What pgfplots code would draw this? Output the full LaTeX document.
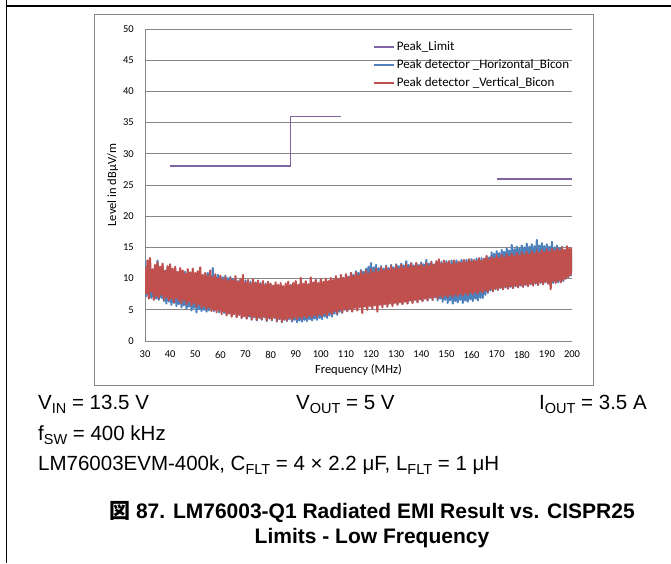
\documentclass[border=0pt]{standalone}
\usepackage{pgfplots}
\pgfplotsset{compat=1.18}
\usepackage{fontspec}
\setmainfont{Carlito}
\newfontfamily\arial{Liberation Sans}
\newfontfamily\cjk{Noto Sans CJK JP}
\definecolor{limitc}{RGB}{128,100,162}
\definecolor{horc}{RGB}{79,129,189}
\definecolor{verc}{RGB}{192,80,77}
\definecolor{gridc}{RGB}{134,134,134}
\newcommand\sub[1]{\raisebox{-4.3pt}{\fontsize{14.5}{14.5}\selectfont #1}}
\begin{document}
\begin{tikzpicture}
\useasboundingbox (0pt,0pt) rectangle (671pt,-563pt);
\draw[line width=1.1pt] (6.5pt,0pt) -- (6.5pt,-563pt);
\draw[line width=1.1pt] (6.5pt,-6pt) -- (671pt,-6pt);
\draw[gridc, line width=0.8pt] (94pt,-14pt) rectangle (593pt,-385pt);
\begin{axis}[
  at={(145pt,-341pt)}, anchor=south west,
  scale only axis, width=427pt, height=312pt,
  xmin=30, xmax=200, ymin=0, ymax=50,
  xtick={30,40,...,200}, ytick={0,5,...,50},
  axis x line*=bottom, axis y line*=left,
  axis line style={draw=gridc, line width=0.75pt, -},
  major tick length=0pt,
  ymajorgrids, grid style={gridc, line width=0.75pt},
  /pgf/number format/assume math mode=true,
  tick label style={font=\fontsize{10.5}{12}\selectfont},
  yticklabel style={anchor=east, inner sep=0pt, xshift=-11pt},
  xticklabel style={anchor=north, inner sep=0pt, yshift=-9.7pt},
  xlabel={Frequency (MHz)},
  ylabel={Level in dBμV/m},
  label style={font=\fontsize{12.5}{14}\selectfont, inner sep=0pt},
  xlabel style={at={(axis description cs:0.5,0)}, anchor=base, yshift=-32.5pt},
  ylabel style={at={(axis description cs:0,0.5)}, anchor=base, yshift=29pt},
  legend style={at={(0.5351,0.9712)}, anchor=north west, draw=none, fill=none,
    inner sep=0pt, row sep=0pt, font=\fontsize{13}{15}\selectfont,
    cells={anchor=west},
    nodes={inner xsep=1.5pt, inner ysep=2.5pt, text height=9.5pt, text depth=3.5pt}},
  legend image code/.code={\draw[#1, line width=1.6pt] (0pt,0pt) -- (20pt,0pt);},
]
\addplot[limitc, line width=1.6pt] coordinates {(40,28)(88,28)(88,36)(108,36)};
\addlegendentry{Peak\_Limit}
\addplot[horc, line width=2.1pt, line join=round] coordinates {
(30,12.9)(30.5,7.2)(31,11.8)(31.5,7.4)(32,12.2)(32.5,6.9)(33,11.4)(33.5,7.1)(34,12.0)(34.5,6.8)(35,12.9)(35.5,6.6)(36,11.6)(36.5,6.9)(37,12.1)(37.5,6.4)(38,11.3)(38.5,6.0)(39,11.8)(39.5,6.3)
(40,11.5)(40.5,5.8)(41,11.2)(41.5,6.1)(42,11.6)(42.5,5.6)(43,10.9)(43.5,5.9)(44,11.3)(44.5,5.4)(45,10.8)(45.5,5.7)(46,11.1)(46.5,5.2)(47,10.6)(47.5,5.5)(48,11.0)(48.5,4.9)(49,10.5)(49.5,5.3)
(50,10.8)(50.5,4.6)(51,10.4)(51.5,5.1)(52,10.7)(52.5,4.8)(53,10.2)(53.5,5.0)(54,10.6)(54.5,4.7)(55,10.9)(55.5,4.9)(56,10.5)(56.5,5.2)(57,11.7)(57.5,4.8)(58,10.3)(58.5,5.1)(59,10.6)(59.5,4.6)
(60,10.4)(60.5,4.9)(61,10.2)(61.5,4.5)(62,10.5)(62.5,4.2)(63,10.1)(63.5,4.6)(64,10.3)(64.5,4.0)(65,9.9)(65.5,4.4)(66,10.0)(66.5,3.9)(67,9.6)(67.5,4.2)(68,9.8)(68.5,3.7)(69,9.4)(69.5,4.0)
(70,9.7)(70.5,3.6)(71,9.2)(71.5,3.9)(72,9.5)(72.5,3.4)(73,9.1)(73.5,3.8)(74,9.4)(74.5,3.3)(75,9.0)(75.5,3.7)(76,9.3)(76.5,3.4)(77,8.9)(77.5,3.8)(78,9.2)(78.5,3.2)(79,8.8)(79.5,3.6)
(80,9.1)(80.5,3.3)(81,8.7)(81.5,3.7)(82,9.0)(82.5,3.1)(83,8.6)(83.5,3.5)(84,8.9)(84.5,3.0)(85,8.5)(85.5,3.4)(86,8.8)(86.5,3.2)(87,8.6)(87.5,3.5)(88,9.0)(88.5,3.1)(89,8.7)(89.5,3.4)
(90,9.2)(90.5,3.0)(91,8.8)(91.5,3.3)(92,9.3)(92.5,3.1)(93,8.9)(93.5,3.4)(94,9.4)(94.5,3.2)(95,9.0)(95.5,3.5)(96,9.5)(96.5,3.3)(97,9.1)(97.5,3.6)(98,9.6)(98.5,3.4)(99,9.2)(99.5,3.7)
(100,9.7)(100.5,3.5)(101,9.3)(101.5,3.9)(102,9.8)(102.5,3.7)(103,9.5)(103.5,4.1)(104,10.0)(104.5,3.9)(105,9.7)(105.5,4.4)(106,10.2)(106.5,4.2)(107,9.9)(107.5,4.7)(108,10.4)(108.5,4.5)(109,10.1)(109.5,5.0)
(110,10.6)(110.5,4.8)(111,10.3)(111.5,5.2)(112,10.9)(112.5,5.0)(113,10.6)(113.5,5.4)(114,11.2)(114.5,5.1)(115,10.9)(115.5,5.5)(116,11.4)(116.5,5.2)(117,11.1)(117.5,5.6)(118,11.6)(118.5,5.3)(119,11.9)(119.5,5.7)
(120,12.5)(120.5,5.4)(121,11.8)(121.5,5.8)(122,12.2)(122.5,5.5)(123,11.7)(123.5,5.9)(124,12.0)(124.5,5.6)(125,11.6)(125.5,6.0)(126,12.1)(126.5,5.7)(127,11.7)(127.5,6.1)(128,12.2)(128.5,5.8)(129,11.8)(129.5,6.2)
(130,12.3)(130.5,5.9)(131,12.0)(131.5,6.3)(132,12.4)(132.5,6.0)(133,12.1)(133.5,6.4)(134,12.8)(134.5,6.1)(135,12.2)(135.5,6.5)(136,12.5)(136.5,6.2)(137,12.1)(137.5,6.6)(138,12.4)(138.5,6.3)(139,12.2)(139.5,6.7)
(140,12.6)(140.5,6.4)(141,12.3)(141.5,6.8)(142,13.0)(142.5,6.5)(143,12.4)(143.5,6.9)(144,12.7)(144.5,6.6)(145,12.3)(145.5,7.0)(146,12.6)(146.5,6.5)(147,12.4)(147.5,6.8)(148,12.7)(148.5,6.3)(149,12.5)(149.5,6.6)
(150,12.8)(150.5,6.1)(151,12.5)(151.5,6.5)(152,12.9)(152.5,6.0)(153,12.6)(153.5,6.4)(154,12.9)(154.5,6.2)(155,12.6)(155.5,6.6)(156,13.0)(156.5,6.1)(157,12.7)(157.5,6.5)(158,13.0)(158.5,6.3)(159,12.7)(159.5,6.7)
(160,13.1)(160.5,6.4)(161,12.8)(161.5,6.8)(162,13.2)(162.5,6.5)(163,12.9)(163.5,6.9)(164,13.3)(164.5,6.9)(165,13.0)(165.5,7.4)(166,13.6)(166.5,7.7)(167,13.4)(167.5,8.1)(168,14.2)(168.5,8.0)(169,14.0)(169.5,8.3)
(170,14.4)(170.5,8.2)(171,14.1)(171.5,8.5)(172,14.6)(172.5,8.3)(173,14.3)(173.5,8.6)(174,14.8)(174.5,8.4)(175,14.5)(175.5,8.7)(176,15.4)(176.5,8.5)(177,14.7)(177.5,8.8)(178,15.1)(178.5,8.6)(179,14.8)(179.5,8.9)
(180,15.3)(180.5,8.7)(181,15.0)(181.5,9.0)(182,15.6)(182.5,8.8)(183,15.1)(183.5,9.1)(184,15.5)(184.5,8.9)(185,15.2)(185.5,9.2)(186,16.2)(186.5,9.0)(187,15.3)(187.5,9.3)(188,15.7)(188.5,9.1)(189,15.2)(189.5,9.4)
(190,15.5)(190.5,9.2)(191,15.1)(191.5,9.5)(192,15.9)(192.5,9.3)(193,15.0)(193.5,9.6)(194,15.3)(194.5,9.4)(195,14.9)(195.5,9.7)(196,15.1)(196.5,9.6)(197,14.6)(197.5,10.0)(198,14.9)(198.5,10.2)(199,14.5)(199.5,10.5)
(200,14.2)};
\addlegendentry{Peak detector \_Horizontal\_Bicon}
\addplot[verc, line width=2.1pt, line join=round] coordinates {
(30,11.8)(30.5,7.6)(31,12.9)(31.5,6.8)(32,13.3)(32.5,7.9)(33,11.5)(33.5,6.6)(34,12.2)(34.5,7.2)(35,12.6)(35.5,6.9)(36,11.9)(36.5,7.4)(37,12.4)(37.5,6.7)(38,11.2)(38.5,7.0)(39,12.0)(39.5,6.5)
(40,12.3)(40.5,6.8)(41,11.6)(41.5,6.2)(42,11.9)(42.5,6.9)(43,11.1)(43.5,6.4)(44,11.7)(44.5,6.0)(45,11.3)(45.5,6.6)(46,10.8)(46.5,5.9)(47,11.5)(47.5,6.3)(48,11.0)(48.5,5.7)(49,11.6)(49.5,6.1)
(50,10.9)(50.5,5.5)(51,11.2)(51.5,5.9)(52,11.8)(52.5,5.3)(53,10.6)(53.5,5.6)(54,10.9)(54.5,5.1)(55,10.4)(55.5,5.4)(56,11.3)(56.5,4.8)(57,10.2)(57.5,5.0)(58,10.7)(58.5,4.6)(59,10.0)(59.5,4.9)
(60,10.5)(60.5,4.3)(61,9.8)(61.5,4.7)(62,10.3)(62.5,4.1)(63,9.6)(63.5,4.4)(64,10.1)(64.5,3.9)(65,9.7)(65.5,4.3)(66,10.4)(66.5,3.8)(67,9.5)(67.5,4.2)(68,9.9)(68.5,3.7)(69,10.6)(69.5,4.0)
(70,9.4)(70.5,3.6)(71,9.8)(71.5,4.1)(72,9.2)(72.5,3.5)(73,9.9)(73.5,3.9)(74,9.3)(74.5,3.4)(75,9.7)(75.5,3.8)(76,9.1)(76.5,3.5)(77,9.6)(77.5,3.9)(78,9.0)(78.5,3.3)(79,9.5)(79.5,3.7)
(80,9.2)(80.5,3.4)(81,8.9)(81.5,3.8)(82,9.4)(82.5,3.2)(83,9.0)(83.5,3.6)(84,9.3)(84.5,3.1)(85,8.8)(85.5,3.5)(86,9.2)(86.5,3.3)(87,9.5)(87.5,3.7)(88,8.9)(88.5,3.4)(89,9.3)(89.5,3.8)
(90,9.6)(90.5,3.5)(91,9.0)(91.5,3.9)(92,10.1)(92.5,3.6)(93,9.2)(93.5,4.0)(94,9.6)(94.5,3.7)(95,9.1)(95.5,4.1)(96,10.2)(96.5,3.8)(97,9.4)(97.5,4.2)(98,9.8)(98.5,3.9)(99,9.3)(99.5,4.3)
(100,9.9)(100.5,4.0)(101,9.5)(101.5,4.4)(102,10.0)(102.5,4.1)(103,9.6)(103.5,4.6)(104,10.1)(104.5,4.3)(105,9.8)(105.5,4.8)(106,10.4)(106.5,4.5)(107,9.9)(107.5,5.0)(108,10.6)(108.5,4.6)(109,10.1)(109.5,5.1)
(110,10.7)(110.5,4.8)(111,10.2)(111.5,5.2)(112,10.9)(112.5,4.7)(113,10.4)(113.5,5.3)(114,11.0)(114.5,4.9)(115,10.5)(115.5,5.4)(116,11.2)(116.5,4.5)(117,10.7)(117.5,5.5)(118,11.3)(118.5,5.0)(119,10.8)(119.5,5.6)
(120,11.5)(120.5,5.2)(121,11.0)(121.5,5.7)(122,11.6)(122.5,4.7)(123,11.1)(123.5,5.8)(124,11.8)(124.5,5.4)(125,11.3)(125.5,5.9)(126,11.9)(126.5,5.5)(127,11.4)(127.5,6.0)(128,12.0)(128.5,5.6)(129,11.5)(129.5,6.1)
(130,12.1)(130.5,5.8)(131,11.6)(131.5,6.2)(132,12.2)(132.5,5.9)(133,11.7)(133.5,6.3)(134,12.3)(134.5,6.0)(135,11.8)(135.5,6.5)(136,12.4)(136.5,6.1)(137,11.9)(137.5,6.6)(138,12.5)(138.5,6.2)(139,12.0)(139.5,6.7)
(140,12.3)(140.5,6.4)(141,11.9)(141.5,6.8)(142,12.5)(142.5,6.5)(143,12.1)(143.5,7.0)(144,12.7)(144.5,6.6)(145,12.2)(145.5,7.1)(146,12.8)(146.5,6.8)(147,13.1)(147.5,7.2)(148,12.4)(148.5,6.9)(149,12.9)(149.5,7.3)
(150,12.5)(150.5,7.0)(151,12.8)(151.5,7.4)(152,12.3)(152.5,7.1)(153,12.9)(153.5,7.5)(154,12.4)(154.5,7.2)(155,12.7)(155.5,7.6)(156,12.5)(156.5,7.3)(157,13.0)(157.5,7.7)(158,12.6)(158.5,7.4)(159,13.1)(159.5,7.8)
(160,12.7)(160.5,7.5)(161,13.0)(161.5,7.9)(162,12.8)(162.5,7.6)(163,13.3)(163.5,8.0)(164,12.9)(164.5,7.8)(165,13.2)(165.5,8.1)(166,13.6)(166.5,7.9)(167,13.1)(167.5,8.3)(168,13.5)(168.5,8.0)(169,13.2)(169.5,8.4)
(170,13.7)(170.5,8.2)(171,13.3)(171.5,8.6)(172,13.8)(172.5,8.3)(173,13.4)(173.5,8.7)(174,13.9)(174.5,8.4)(175,13.5)(175.5,8.8)(176,14.0)(176.5,8.5)(177,13.6)(177.5,8.9)(178,14.1)(178.5,8.6)(179,13.7)(179.5,9.0)
(180,14.2)(180.5,8.7)(181,13.8)(181.5,9.1)(182,14.3)(182.5,8.8)(183,13.9)(183.5,9.2)(184,14.4)(184.5,8.9)(185,14.0)(185.5,9.3)(186,14.5)(186.5,9.0)(187,14.1)(187.5,9.4)(188,14.6)(188.5,9.1)(189,14.2)(189.5,9.5)
(190,14.7)(190.5,9.2)(191,14.3)(191.5,8.3)(192,14.8)(192.5,9.6)(193,14.4)(193.5,9.3)(194,14.9)(194.5,9.7)(195,14.5)(195.5,9.4)(196,15.0)(196.5,9.8)(197,14.6)(197.5,10.0)(198,15.2)(198.5,10.3)(199,14.8)(199.5,10.6)
(200,15.0)};
\addlegendentry{Peak detector \_Vertical\_Bicon}
\addplot[limitc, line width=1.6pt, forget plot] coordinates {(170,26)(200,26)};
\end{axis}
\begin{scope}[font=\arial\fontsize{20.5}{24}\selectfont]
\node[anchor=base west, inner sep=0pt] at (38pt,-409pt) {V\sub{IN} = 13.5 V};
\node[anchor=base west, inner sep=0pt] at (296pt,-409pt) {V\sub{OUT} = 5 V};
\node[anchor=base west, inner sep=0pt] at (539pt,-409pt) {I\sub{OUT} = 3.5 A};
\node[anchor=base west, inner sep=0pt] at (38pt,-440pt) {f\sub{SW} = 400 kHz};
\node[anchor=base west, inner sep=0pt] at (38pt,-470pt) {LM76003EVM-400k, C\sub{FLT} = 4 × 2.2 μF, L\sub{FLT} = 1 μH};
\end{scope}
\begin{scope}[font=\arial\bfseries\fontsize{21}{25}\selectfont]
\node[anchor=base, inner sep=0pt] at (372pt,-518pt) {{\cjk 図} 87. LM76003-Q1 Radiated EMI Result vs. CISPR25};
\node[anchor=base, inner sep=0pt] at (372pt,-543pt) {Limits - Low Frequency};
\end{scope}
\end{tikzpicture}
\end{document}
